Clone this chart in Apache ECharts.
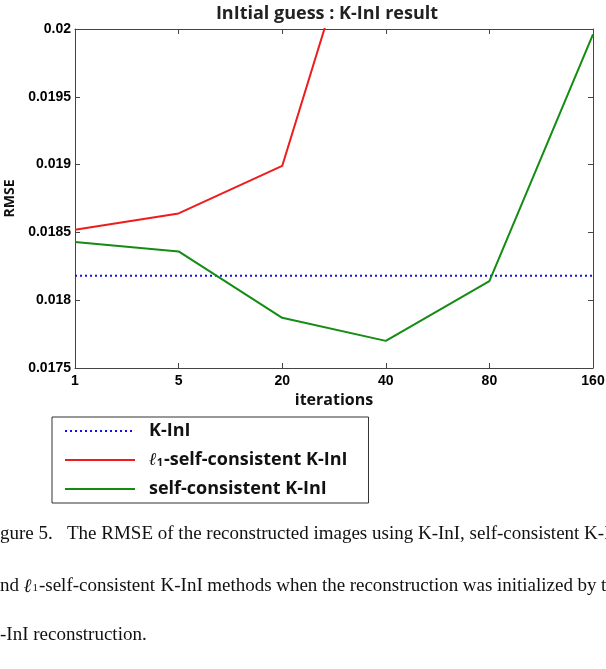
<!DOCTYPE html>
<html>
<head>
<meta charset="utf-8">
<script src="https://cdn.jsdelivr.net/npm/echarts@6/dist/echarts.min.js"></script>
<style>
  html, body { margin: 0; padding: 0; background: #fff; }
  #chart { width: 606px; height: 669px; }
</style>
</head>
<body>
<div id="chart"></div>
<script>
var iterations = ['1', '5', '20', '40', '80', '160'];
var kInI = [0.01818, 0.01818, 0.01818, 0.01818, 0.01818, 0.01818];
var l1SelfConsistent = [0.01852, 0.01864, 0.01899, 0.02147, null, null];
var selfConsistent = [0.01843, 0.01836, 0.01787, 0.01770, 0.01814, 0.01996];

var tickFont = { fontFamily: 'Liberation Sans', fontWeight: 'bold', fontSize: 14, color: '#000' };
var captionFont = '19px "Liberation Serif"';

// caption line 2 is justified in the source: measure words and spread the gaps
var ctx = document.createElement('canvas').getContext('2d');
function textW(str, font) { ctx.font = font; return ctx.measureText(str).width; }

var caption2 = ['nd', 'L1', 'K-InI', 'methods', 'when', 'the', 'reconstruction', 'was', 'initialized', 'by', 't'];
var l1Parts = [['ℓ', 'italic ' + captionFont, 0], ['1', '11px "Liberation Serif"', 6], ['-self-consistent', captionFont, 0]];
function wordW(w) {
  if (w !== 'L1') return textW(w, captionFont);
  return l1Parts.reduce(function (s, p) { return s + textW(p[0], p[1]) + 1; }, 0);
}
var lastX = 601;
var used = 0;
caption2.slice(0, -1).forEach(function (w) { used += wordW(w); });
var gap = (lastX - used) / (caption2.length - 1);

var line1Y = 525, line2Y = 577, line3Y = 626;
var captionGraphics = [{
  type: 'text', x: 0, y: line1Y,
  style: { text: 'gure 5.   The RMSE of the reconstructed images using K-InI, self-consistent K-I', font: captionFont, fill: '#111' }
}, {
  type: 'text', x: 0, y: line3Y,
  style: { text: '-InI reconstruction.', font: captionFont, fill: '#111' }
}];
var cx = 0;
caption2.forEach(function (w) {
  if (w === 'L1') {
    var px = cx;
    l1Parts.forEach(function (p) {
      captionGraphics.push({ type: 'text', x: px, y: line2Y + p[2], style: { text: p[0], font: p[1], fill: '#111' } });
      px += textW(p[0], p[1]) + 1;
    });
  } else {
    captionGraphics.push({ type: 'text', x: cx, y: line2Y, style: { text: w, font: captionFont, fill: '#111' } });
  }
  cx += wordW(w) + gap;
});

var chart = echarts.init(document.getElementById('chart'));

var option = {
  animation: false,
  backgroundColor: '#fff',
  title: {
    text: 'InItial guess : K-InI result',
    left: 322,
    textAlign: 'center',
    top: 0,
    textStyle: { fontFamily: 'Open Sans', fontWeight: 'bold', fontSize: 18, color: '#222' }
  },
  grid: { left: 75, right: 13, top: 29, bottom: 301, outerBoundsMode: 'none' },
  legend: {
    orient: 'vertical',
    left: 52,
    top: 417,
    padding: [5, 21, 5, 12],
    itemWidth: 70,
    itemHeight: 10,
    itemGap: 11,
    borderColor: '#333',
    borderWidth: 1,
    itemStyle: { opacity: 0 },
    formatter: function (name) {
      if (name.indexOf('ℓ₁') === 0) return '{l|ℓ}{s|1}' + name.slice(2);
      return name;
    },
    textStyle: {
      fontFamily: 'Open Sans', fontWeight: 'bold', fontSize: 18, color: '#111', padding: [0, 0, 0, 9],
      rich: {
        l: { fontFamily: 'DejaVu Serif', fontStyle: 'italic', fontWeight: 'bold', fontSize: 18, lineHeight: 22, color: '#111' },
        s: { fontFamily: 'Open Sans', fontWeight: 'bold', fontSize: 11, lineHeight: 22, color: '#111', padding: [6, 1, 0, 0] }
      }
    },
    data: ['K-InI', 'ℓ₁-self-consistent K-InI', 'self-consistent K-InI']
  },
  xAxis: [{
    type: 'category',
    data: iterations,
    boundaryGap: false,
    name: 'iterations',
    nameLocation: 'middle',
    nameGap: 19,
    nameTextStyle: { fontFamily: 'Open Sans', fontWeight: 'bold', fontSize: 16, color: '#111' },
    axisLine: { lineStyle: { color: '#444' } },
    axisTick: { inside: true, length: 5, lineStyle: { color: '#444' } },
    axisLabel: Object.assign({ margin: 6 }, tickFont),
    splitLine: { show: false }
  }, {
    type: 'category',
    data: iterations,
    boundaryGap: false,
    position: 'top',
    axisLine: { lineStyle: { color: '#444' } },
    axisTick: { inside: true, length: 5, lineStyle: { color: '#444' } },
    axisLabel: { show: false }
  }],
  yAxis: [{
    type: 'value',
    min: 0.0175,
    max: 0.02,
    interval: 0.0005,
    name: 'RMSE',
    nameLocation: 'middle',
    nameGap: 58,
    nameTextStyle: { fontFamily: 'Open Sans', fontWeight: 'bold', fontSize: 14, color: '#111' },
    axisLine: { show: true, lineStyle: { color: '#444' } },
    axisTick: { show: true, inside: true, length: 5, lineStyle: { color: '#444' } },
    axisLabel: Object.assign({
      margin: 4,
      formatter: function (v) { return String(+v.toFixed(4)); }
    }, tickFont),
    splitLine: { show: false }
  }, {
    type: 'value',
    min: 0.0175,
    max: 0.02,
    interval: 0.0005,
    position: 'right',
    axisLine: { show: true, lineStyle: { color: '#444' } },
    axisTick: { show: true, inside: true, length: 5, lineStyle: { color: '#444' } },
    axisLabel: { show: false },
    splitLine: { show: false }
  }],
  series: [{
    name: 'K-InI',
    type: 'line',
    data: kInI,
    symbol: 'none',
    lineStyle: { color: '#1010ee', width: 2, type: [2, 3] },
    itemStyle: { color: '#1010ee' }
  }, {
    name: 'ℓ₁-self-consistent K-InI',
    type: 'line',
    data: l1SelfConsistent,
    symbol: 'none',
    clip: true,
    lineStyle: { color: '#ee1c1c', width: 2 },
    itemStyle: { color: '#ee1c1c' }
  }, {
    name: 'self-consistent K-InI',
    type: 'line',
    data: selfConsistent,
    symbol: 'none',
    lineStyle: { color: '#148c14', width: 2 },
    itemStyle: { color: '#148c14' }
  }],
  graphic: captionGraphics
};

chart.setOption(option);
</script>
</body>
</html>
